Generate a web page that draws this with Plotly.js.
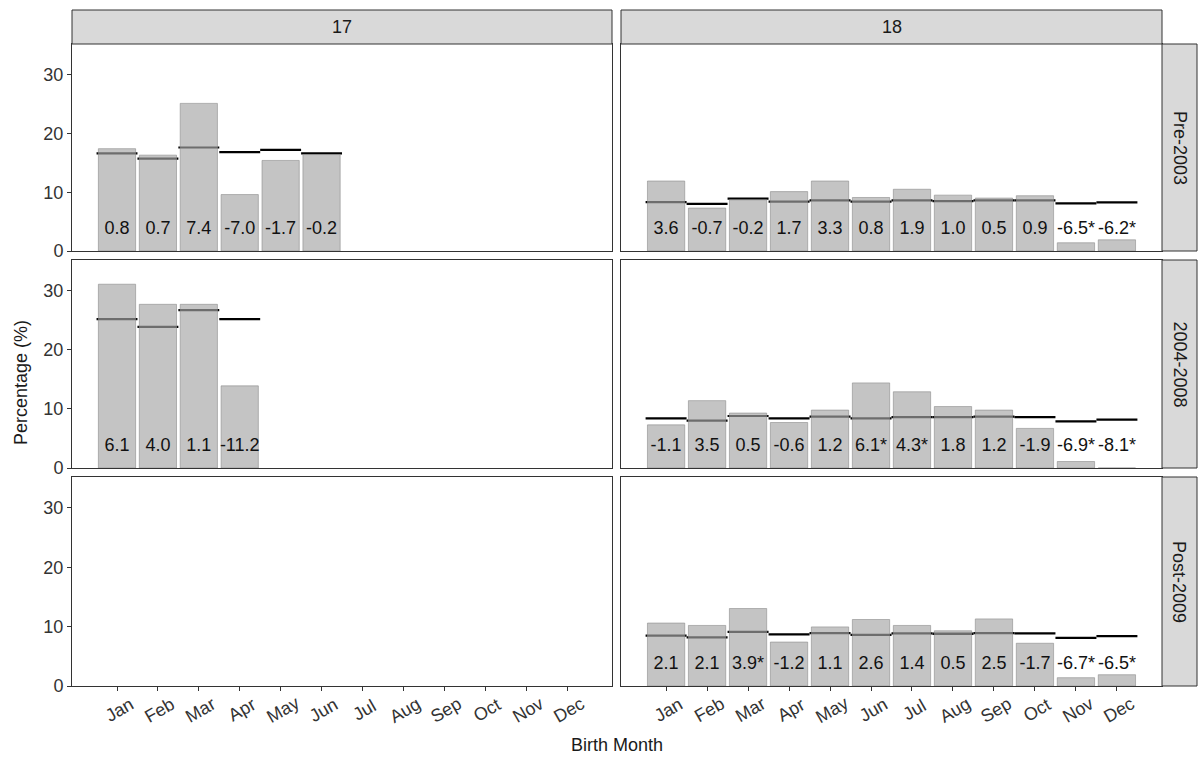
<!DOCTYPE html>
<html>
<head>
<meta charset="utf-8">
<script src="https://cdn.plot.ly/plotly-3.0.1.min.js"></script>
<style>html,body{margin:0;padding:0;background:#fff;}#chart{width:1198px;height:760px;}</style>
</head>
<body>
<div id="chart"></div>
<script>
// ---- data ----
const months = ['Jan','Feb','Mar','Apr','May','Jun','Jul','Aug','Sep','Oct','Nov','Dec'];
const ageGroups = ['17','18'];
const periods = ['Pre-2003','2004-2008','Post-2009'];
const yTicks = [0, 10, 20, 30];

const obs_17_pre = [17.4, 16.3, 25.1, 9.6, 15.4, 16.4];
const exp_17_pre = [16.6, 15.7, 17.6, 16.8, 17.2, 16.6];
const lab_17_pre = ['0.8','0.7','7.4','-7.0','-1.7','-0.2'];

const obs_18_pre = [11.9, 7.3, 8.7, 10.1, 11.9, 9.1, 10.5, 9.5, 9.0, 9.4, 1.4, 1.9];
const exp_18_pre = [8.3, 8.0, 8.9, 8.4, 8.6, 8.4, 8.6, 8.5, 8.6, 8.6, 8.1, 8.25];
const lab_18_pre = ['3.6','-0.7','-0.2','1.7','3.3','0.8','1.9','1.0','0.5','0.9','-6.5*','-6.2*'];

const obs_17_mid = [31.1, 27.7, 27.7, 13.9];
const exp_17_mid = [25.2, 23.9, 26.7, 25.2];
const lab_17_mid = ['6.1','4.0','1.1','-11.2'];

const obs_18_mid = [7.3, 11.4, 9.3, 7.7, 9.8, 14.4, 12.9, 10.4, 9.8, 6.7, 1.1, 0.0];
const exp_18_mid = [8.4, 8.0, 8.8, 8.4, 8.7, 8.4, 8.6, 8.6, 8.7, 8.6, 7.9, 8.2];
const lab_18_mid = ['-1.1','3.5','0.5','-0.6','1.2','6.1*','4.3*','1.8','1.2','-1.9','-6.9*','-8.1*'];

const obs_17_post = [];
const exp_17_post = [];
const lab_17_post = [];

const obs_18_post = [10.6, 10.2, 13.05, 7.4, 9.95, 11.2, 10.2, 9.3, 11.3, 7.2, 1.4, 1.9];
const exp_18_post = [8.5, 8.2, 9.1, 8.7, 8.9, 8.6, 8.87, 8.8, 8.9, 8.87, 8.1, 8.4];
const lab_18_post = ['2.1','2.1','3.9*','-1.2','1.1','2.6','1.4','0.5','2.5','-1.7','-6.7*','-6.5*'];

// ---- layout geometry (pixels) ----
const W = 1198, H = 760;
const colX = [[72, 612], [621, 1162]];
const rowY = [[44, 251], [260, 468], [477, 686]];
const stripTop = [10, 44];
const stripRight = [1162, 1197];
const FONT = 'Liberation Sans, Arial, sans-serif';
const LW = 0.38;      // thickness of expected-value segment, in data units
const LABEL_Y = 3.7;  // y of the difference label

const facets = [
  [[obs_17_pre, exp_17_pre, lab_17_pre], [obs_18_pre, exp_18_pre, lab_18_pre]],
  [[obs_17_mid, exp_17_mid, lab_17_mid], [obs_18_mid, exp_18_mid, lab_18_mid]],
  [[obs_17_post, exp_17_post, lab_17_post], [obs_18_post, exp_18_post, lab_18_post]]
];

const px2x = p => p / W;
const px2y = p => (H - p) / H;

const traces = [];
const layout = {
  width: W, height: H,
  margin: {l: 0, r: 0, t: 0, b: 0},
  paper_bgcolor: '#ffffff', plot_bgcolor: '#ffffff',
  barmode: 'overlay',
  showlegend: false,
  font: {family: FONT, color: '#1a1a1a'},
  shapes: [], annotations: []
};

let k = 0;
for (let r = 0; r < 3; r++) {
  for (let c = 0; c < 2; c++) {
    k++;
    const sfx = k === 1 ? '' : String(k);
    const xa = 'x' + sfx, ya = 'y' + sfx;
    const [obs, exp, lab] = facets[r][c];
    const idx = obs.map((_, i) => i);

    // expected value segments (drawn first, below bars)
    traces.push({
      type: 'bar', xaxis: xa, yaxis: ya,
      x: idx, y: idx.map(() => LW), base: exp.map(v => v - LW / 2),
      width: 1.0,
      marker: {color: '#000000', line: {width: 0}},
      hoverinfo: 'skip'
    });
    // observed bars, semi-transparent grey
    traces.push({
      type: 'bar', xaxis: xa, yaxis: ya,
      x: idx, y: obs, width: 0.91,
      marker: {color: 'rgba(165,165,165,0.66)', line: {color: 'rgba(140,140,140,0.6)', width: 1}},
      hoverinfo: 'skip'
    });
    // difference labels
    traces.push({
      type: 'scatter', mode: 'text', xaxis: xa, yaxis: ya,
      x: idx, y: idx.map(() => LABEL_Y), text: lab,
      textposition: 'middle center',
      textfont: {family: FONT, size: 18, color: '#111111'},
      cliponaxis: false, hoverinfo: 'skip'
    });

    const bottom = r === 2, left = c === 0;
    layout['xaxis' + sfx] = {
      domain: [px2x(colX[c][0]), px2x(colX[c][1])],
      anchor: ya, range: [-1.1, 12.1],
      tickvals: months.map((_, i) => i),
      ticktext: months,
      showticklabels: false,
      ticks: bottom ? 'outside' : '', ticklen: 4, tickcolor: '#333333',
      showline: true, mirror: true, linecolor: '#333333', linewidth: 1,
      showgrid: false, zeroline: false, fixedrange: true
    };
    layout['yaxis' + sfx] = {
      domain: [px2y(rowY[r][1]), px2y(rowY[r][0])],
      anchor: xa, range: [0, 35.2],
      tickvals: yTicks,
      showticklabels: left,
      tickfont: {family: FONT, size: 18, color: '#333333'},
      ticks: left ? 'outside' : '', ticklen: 4, tickcolor: '#333333',
      showline: true, mirror: true, linecolor: '#333333', linewidth: 1,
      showgrid: false, zeroline: false, fixedrange: true
    };

    if (bottom) {
      months.forEach((m, i) => {
        layout.annotations.push({
          x: i + 0.05, xref: xa, y: px2y(710), yref: 'paper',
          text: m, showarrow: false, textangle: -30,
          xanchor: 'center', yanchor: 'middle',
          font: {family: FONT, size: 18, color: '#333333'}
        });
      });
    }
  }
}

// strips on top (age)
ageGroups.forEach((g, c) => {
  layout.shapes.push({
    type: 'rect', xref: 'paper', yref: 'paper',
    x0: px2x(colX[c][0]), x1: px2x(colX[c][1]),
    y0: px2y(stripTop[1]), y1: px2y(stripTop[0]),
    fillcolor: '#d9d9d9', line: {color: '#333333', width: 1}
  });
  layout.annotations.push({
    x: px2x((colX[c][0] + colX[c][1]) / 2), y: px2y((stripTop[0] + stripTop[1]) / 2),
    xref: 'paper', yref: 'paper', text: g, showarrow: false,
    xanchor: 'center', yanchor: 'middle',
    font: {family: FONT, size: 18, color: '#1a1a1a'}
  });
});
// strips on the right (period)
periods.forEach((p, r) => {
  layout.shapes.push({
    type: 'rect', xref: 'paper', yref: 'paper',
    x0: px2x(stripRight[0]), x1: px2x(stripRight[1]),
    y0: px2y(rowY[r][1]), y1: px2y(rowY[r][0]),
    fillcolor: '#d9d9d9', line: {color: '#333333', width: 1}
  });
  layout.annotations.push({
    x: px2x((stripRight[0] + stripRight[1]) / 2), y: px2y((rowY[r][0] + rowY[r][1]) / 2),
    xref: 'paper', yref: 'paper', text: p, showarrow: false, textangle: 90,
    xanchor: 'center', yanchor: 'middle',
    font: {family: FONT, size: 18, color: '#1a1a1a'}
  });
});

// axis titles
layout.annotations.push({
  x: px2x(21), y: px2y(383), xref: 'paper', yref: 'paper',
  text: 'Percentage (%)', showarrow: false, textangle: -90,
  xanchor: 'center', yanchor: 'middle',
  font: {family: FONT, size: 18, color: '#1a1a1a'}
});
layout.annotations.push({
  x: px2x(617), y: px2y(745), xref: 'paper', yref: 'paper',
  text: 'Birth Month', showarrow: false,
  xanchor: 'center', yanchor: 'middle',
  font: {family: FONT, size: 18, color: '#1a1a1a'}
});

Plotly.newPlot('chart', traces, layout, {displayModeBar: false, staticPlot: true});
</script>
</body>
</html>
